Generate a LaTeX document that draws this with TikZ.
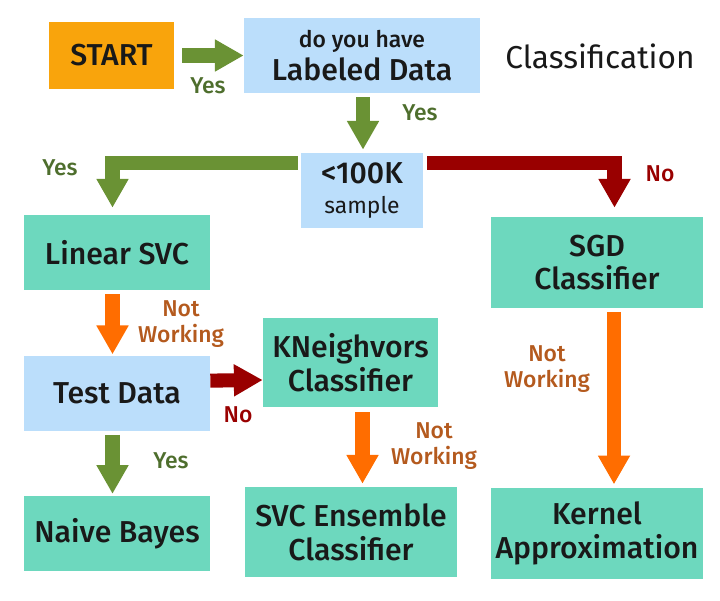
\documentclass[tikz,border=0pt]{standalone}
\usepackage{fontspec}
\setmainfont{Fira Sans}[BoldFont={Fira Sans Medium}]
\usetikzlibrary{arrows.meta,positioning,calc}
\definecolor{startorange}{RGB}{249,164,12}
\definecolor{boxblue}{RGB}{187,222,251}
\definecolor{boxteal}{RGB}{109,216,190}
\definecolor{yesgreen}{RGB}{106,146,52}
\definecolor{yestext}{RGB}{78,110,45}
\definecolor{nored}{RGB}{153,0,0}
\definecolor{notorange}{RGB}{255,109,0}
\definecolor{nottext}{RGB}{180,90,30}
\newcommand{\bigtxt}{\fontsize{21.5}{24}\selectfont}
\newcommand{\smalltxt}{\fontsize{16.3}{18.8}\selectfont}

\begin{document}
\begin{tikzpicture}[x=0.025cm,y=-0.025cm,node distance=1.625cm,
   b/.style 2 args={inner sep=0pt,align=center,font=\bigtxt\bfseries,text=black!90,
             minimum width=#1,minimum height=#2},
   arr/.style={line width=10pt,-{Triangle[length=20.5pt,width=21.5pt]}},
   lbl/.style={font=\smalltxt\bfseries,align=center}]
  \useasboundingbox (0,0) rectangle (720,600);
  % top row
  \node[b={3.1cm}{1.675cm},fill=startorange] (start) at (111.5,55.5) {START};
  \node[b={5.9cm}{1.875cm},fill=boxblue] (labeled) at (362,55.5)
       {{\smalltxt do you have}\\Labeled Data};
  \node[font=\fontsize{22.5}{25}\selectfont,text=black!90] (title) at (600,56) {Classification};
  \node[b={3.05cm}{1.875cm},fill=boxblue] (sample) at (362,190.5)
       {<100K\\[-2pt]{\smalltxt\mdseries sample}};
  % left column
  \node[b={4.65cm}{1.875cm},fill=boxteal] (linear) at (117,252.5) {Linear SVC};
  \node[b={4.65cm}{1.875cm},fill=boxblue,below=of linear] (test) {Test Data};
  \node[b={4.65cm}{1.875cm},fill=boxteal,below=of test] (naive) {Naive Bayes};
  % middle column
  \node[b={4.375cm}{2.225cm},fill=boxteal] (knn) at (350.5,362.5) {KNeighvors\\Classifier};
  \node[b={5.3cm}{2.25cm},fill=boxteal] (svc) at (351,532) {SVC Ensemble\\Classifier};
  % right column
  \node[b={5.3cm}{2.275cm},fill=boxteal] (sgd) at (597,262.5) {SGD\\Classifier};
  \node[b={5.3cm}{2.275cm},fill=boxteal,below=4.475cm of sgd] (kernel) {Kernel\\Approximation};

  % connectors
  \draw[arr,yesgreen,shorten <=6pt] (start.east) -- (labeled.west);
  \draw[arr,yesgreen] ($(labeled.south)+(1,4)$) -- ($(sample.north)+(1,-3)$);
  \draw[arr,yesgreen] ($(sample.north west)+(-3,10.5)$) -| ($(linear.north)+(-4.5,-7)$);
  \draw[arr,nored] ($(sample.north east)+(4,10.5)$) -| ($(sgd.north)+(17.5,-9)$);
  \draw[arr,notorange] ($(linear.south)+(-4.5,4)$) -- ($(test.north)+(-4.5,-1)$);
  \draw[arr,nored] ($(test.east)+(0,-12.5)$) -- ($(knn.west)+(0,17.5)$);
  \draw[arr,yesgreen] ($(test.south)+(-4.5,4)$) -- ($(naive.north)+(-4.5,-2)$);
  \draw[arr,notorange] ($(knn.south)+(12,5)$) -- ($(svc.north)+(11.5,-3)$);
  \draw[arr,notorange] ($(sgd.south)+(17,4)$) -- ($(kernel.north)+(17,-3)$);

  % labels
  \node[lbl,text=yestext] (yes1) at (208,86) {Yes};
  \node[lbl,text=yestext] (yes2) at (420,113) {Yes};
  \node[lbl,text=yestext] (yes3) at (60,168) {Yes};
  \node[lbl,text=nored] (no1) at (660,174) {No};
  \node[lbl,text=nottext] (nw1) at (181,324) {Not\\Working};
  \node[lbl,text=nored] (no2) at (238,415) {No};
  \node[lbl,text=yestext] (yes4) at (171,461) {Yes};
  \node[lbl,text=nottext] (nw2) at (434,446) {Not\\Working};
  \node[lbl,text=nottext] (nw3) at (547,369) {Not\\Working};
\end{tikzpicture}
\end{document}
